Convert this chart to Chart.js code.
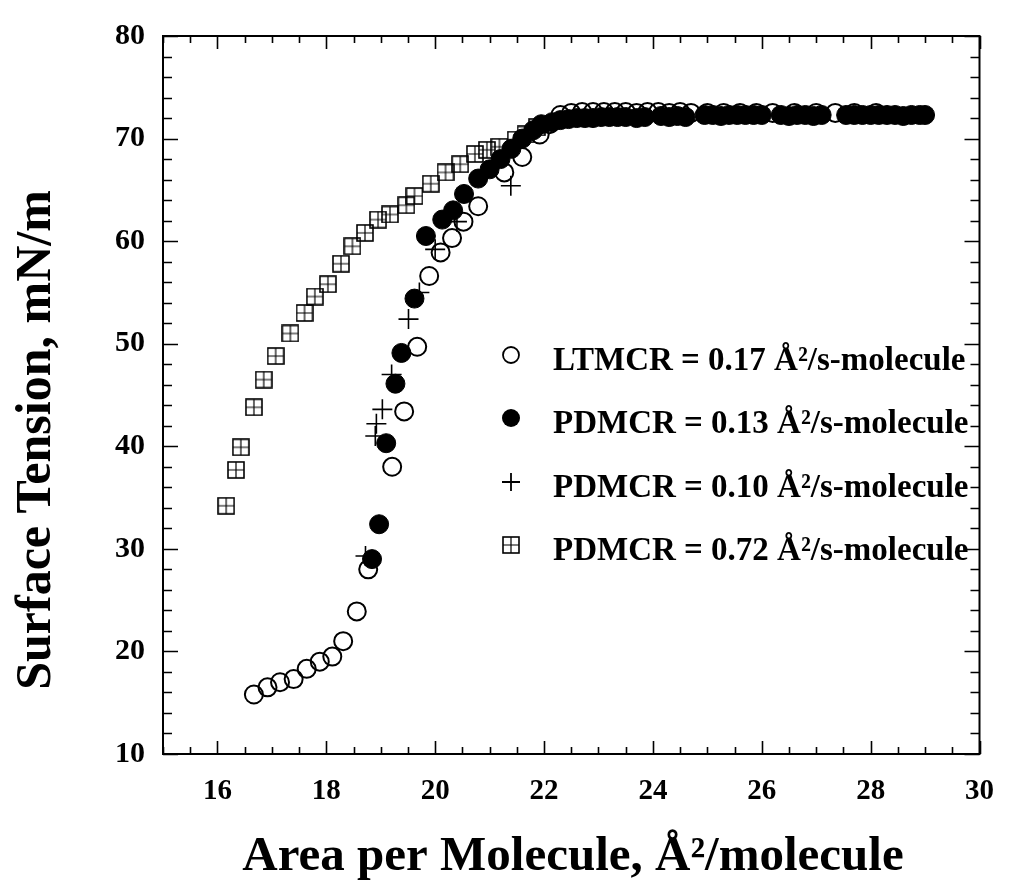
<!DOCTYPE html>
<html>
<head>
<meta charset="utf-8">
<script src="https://cdn.jsdelivr.net/npm/chart.js@4.4.1/dist/chart.umd.min.js"></script>
<style>
  html, body { margin: 0; padding: 0; background: #fff; }
  #wrap { width: 1014px; height: 890px; }
</style>
</head>
<body>
<div id="wrap"><canvas id="chart" width="1014" height="890"></canvas></div>
<script>
// Série LTMCR = 0.17 (círculos abertos)
const ltmcrX = [16.67, 16.92, 17.15, 17.40, 17.64, 17.88, 18.11, 18.31, 18.56, 18.77, 19.21, 19.43, 19.67, 19.89, 20.10, 20.31, 20.52, 20.79, 21.27, 21.60, 21.92, 22.10,
  22.30, 22.50, 22.70, 22.90, 23.10, 23.30, 23.50, 23.70, 23.90, 24.10, 24.30, 24.50, 24.70, 25.00, 25.30, 25.60, 25.90, 26.20, 26.60, 27.00, 27.35, 27.70, 28.10];
const ltmcrY = [15.8, 16.5, 17.0, 17.3, 18.3, 19.0, 19.5, 21.0, 23.9, 28.0, 38.0, 43.4, 49.7, 56.6, 58.9, 60.3, 61.9, 63.4, 66.7, 68.2, 70.4, 71.4,
  72.3, 72.5, 72.6, 72.6, 72.6, 72.6, 72.6, 72.5, 72.6, 72.6, 72.5, 72.6, 72.5, 72.5, 72.5, 72.5, 72.5, 72.5, 72.5, 72.5, 72.5, 72.5, 72.5];

// Série PDMCR = 0.13 (círculos cheios)
const pd013X = [18.84, 18.97, 19.10, 19.27, 19.38, 19.62, 19.83, 20.13, 20.33, 20.53, 20.79, 21.00, 21.20, 21.40, 21.60, 21.80, 21.95,
  22.15, 22.30, 22.45, 22.60, 22.75, 22.90, 23.05, 23.20, 23.35, 23.50, 23.70, 23.85, 24.15, 24.30, 24.45, 24.60, 24.95, 25.10, 25.25, 25.40,
  25.55, 25.70, 25.85, 26.00, 26.35, 26.50, 26.65, 26.80, 26.95, 27.10, 27.55, 27.70, 27.85, 28.00, 28.15, 28.30, 28.45, 28.60, 28.75, 28.90, 29.00];
const pd013Y = [29.0, 32.4, 40.3, 46.1, 49.1, 54.4, 60.5, 62.1, 63.0, 64.6, 66.1, 67.0, 68.0, 69.0, 70.0, 70.8, 71.4,
  71.6, 71.8, 71.9, 72.0, 72.0, 72.0, 72.1, 72.1, 72.1, 72.1, 72.0, 72.1, 72.2, 72.1, 72.2, 72.1, 72.3, 72.3, 72.2, 72.3,
  72.3, 72.3, 72.3, 72.3, 72.3, 72.2, 72.3, 72.3, 72.2, 72.3, 72.3, 72.3, 72.3, 72.3, 72.3, 72.3, 72.3, 72.2, 72.3, 72.3, 72.3];

// Série PDMCR = 0.10 (cruzes)
const pd010X = [18.72, 18.90, 18.92, 19.03, 19.20, 19.51, 19.71, 20.00, 20.40, 21.39];
const pd010Y = [29.3, 41.0, 42.2, 43.6, 47.0, 52.4, 55.0, 59.2, 61.9, 65.4];

// Série PDMCR = 0.72 (quadrados com cruz)
const pd072X = [16.16, 16.34, 16.43, 16.67, 16.85, 17.07, 17.34, 17.60, 17.79, 18.03, 18.27, 18.48, 18.71, 18.95, 19.17, 19.47, 19.62, 19.92,
  20.19, 20.46, 20.73, 20.95, 21.18, 21.48, 21.66, 21.87];
const pd072Y = [34.2, 37.7, 39.9, 43.8, 46.5, 48.8, 51.0, 53.0, 54.6, 55.8, 57.8, 59.5, 60.8, 62.1, 62.6, 63.5, 64.4, 65.6,
  66.7, 67.5, 68.5, 68.9, 69.2, 69.9, 70.4, 71.1];

const seriesLabels = [
  'LTMCR = 0.17 Å²/s-molecule',
  'PDMCR = 0.13 Å²/s-molecule',
  'PDMCR = 0.10 Å²/s-molecule',
  'PDMCR = 0.72 Å²/s-molecule'
];
const xTicks = [16, 18, 20, 22, 24, 26, 28, 30];
const yTicks = [10, 20, 30, 40, 50, 60, 70, 80];
const xTitle = 'Area per Molecule, Å²/molecule';
const yTitle = 'Surface Tension, mN/m';

const FONT = "'Liberation Serif', 'Times New Roman', serif";

// junta arrays x/y em pontos
function pts(xs, ys) {
  return xs.map((x, i) => ({ x: x, y: ys[i] }));
}

// quadrado com cruz interna (marcador da série 0.72)
function makeBoxCross(size) {
  const c = document.createElement('canvas');
  c.width = size; c.height = size;
  const g = c.getContext('2d');
  g.strokeStyle = '#000';
  g.lineWidth = 1.6;
  g.strokeRect(1, 1, size - 2, size - 2);
  g.lineWidth = 1.2;
  g.beginPath();
  g.moveTo(size / 2, 1); g.lineTo(size / 2, size - 1);
  g.moveTo(1, size / 2); g.lineTo(size - 1, size / 2);
  g.stroke();
  return c;
}
const boxCross = makeBoxCross(18);

// moldura + ticks para dentro + títulos + legenda
const framePlugin = {
  id: 'frame',
  afterDraw(chart) {
    const { ctx, chartArea: a, scales } = chart;
    const xs = scales.x, ys = scales.y;
    ctx.save();
    ctx.strokeStyle = '#000';
    ctx.lineWidth = 2;
    ctx.strokeRect(a.left, a.top, a.right - a.left, a.bottom - a.top);

    ctx.lineWidth = 1.6;
    ctx.beginPath();
    for (let v = 15; v <= 30.001; v += 0.5) {
      const px = Math.round(xs.getPixelForValue(v)) + 0.5;
      const len = (Math.abs(v % 2) < 0.01) ? 13 : 7;
      ctx.moveTo(px, a.bottom); ctx.lineTo(px, a.bottom - len);
      ctx.moveTo(px, a.top); ctx.lineTo(px, a.top + len);
    }
    for (let v = 10; v <= 80.001; v += 2) {
      const py = Math.round(ys.getPixelForValue(v)) + 0.5;
      const len = (Math.abs(v % 10) < 0.01) ? 15 : 9;
      ctx.moveTo(a.left, py); ctx.lineTo(a.left + len, py);
      ctx.moveTo(a.right, py); ctx.lineTo(a.right - len, py);
    }
    ctx.stroke();

    // títulos dos eixos
    ctx.fillStyle = '#000';
    ctx.textAlign = 'center';
    ctx.textBaseline = 'middle';
    ctx.font = 'bold 49px ' + FONT;
    ctx.fillText(xTitle, 573, 857);
    ctx.save();
    ctx.translate(37, 440);
    ctx.rotate(-Math.PI / 2);
    ctx.font = 'bold 50px ' + FONT;
    ctx.fillText(yTitle, 0, 0);
    ctx.restore();

    // legenda
    const rowsY = [361, 424, 488, 551];
    const mx = 511, tx = 553;
    ctx.font = 'bold 33px ' + FONT;
    ctx.textAlign = 'left';
    seriesLabels.forEach((lab, i) => {
      const y = rowsY[i];
      const my = y - 6;
      ctx.lineWidth = 1.8;
      if (i === 0) {
        ctx.beginPath(); ctx.arc(mx, my, 8, 0, Math.PI * 2); ctx.stroke();
      } else if (i === 1) {
        ctx.beginPath(); ctx.arc(mx, my, 9, 0, Math.PI * 2); ctx.fill();
      } else if (i === 2) {
        ctx.beginPath();
        ctx.moveTo(mx - 9, my); ctx.lineTo(mx + 9, my);
        ctx.moveTo(mx, my - 9); ctx.lineTo(mx, my + 9);
        ctx.stroke();
      } else {
        ctx.drawImage(boxCross, mx - 9, my - 9);
      }
      ctx.fillText(lab, tx, y);
    });
    ctx.restore();
  }
};

new Chart(document.getElementById('chart').getContext('2d'), {
  type: 'scatter',
  data: {
    datasets: [
      { label: seriesLabels[0], data: pts(ltmcrX, ltmcrY), pointStyle: 'circle', pointRadius: 9,
        backgroundColor: 'rgba(0,0,0,0)', borderColor: '#000', borderWidth: 2 },
      { label: seriesLabels[1], data: pts(pd013X, pd013Y), pointStyle: 'circle', pointRadius: 9.5,
        backgroundColor: '#000', borderColor: '#000', borderWidth: 1 },
      { label: seriesLabels[2], data: pts(pd010X, pd010Y), pointStyle: 'cross', pointRadius: 10,
        backgroundColor: '#000', borderColor: '#000', borderWidth: 1.6 },
      { label: seriesLabels[3], data: pts(pd072X, pd072Y), pointStyle: boxCross, pointRadius: 9,
        backgroundColor: '#000', borderColor: '#000' }
    ]
  },
  options: {
    responsive: false,
    animation: false,
    layout: { padding: { top: 25, right: 17, left: 0, bottom: 0 } },
    plugins: { legend: { display: false }, tooltip: { enabled: false } },
    scales: {
      x: {
        type: 'linear', min: 15, max: 30,
        afterBuildTicks: s => { s.ticks = xTicks.map(v => ({ value: v })); },
        afterFit: s => { s.height = 136; },
        grid: { display: false, drawTicks: false },
        border: { display: false },
        ticks: { color: '#000', padding: 20, maxRotation: 0, font: { family: FONT, size: 29, weight: 'bold' } }
      },
      y: {
        type: 'linear', min: 10, max: 80,
        afterBuildTicks: s => { s.ticks = yTicks.map(v => ({ value: v })); },
        afterFit: s => { s.width = 163; },
        grid: { display: false, drawTicks: false },
        border: { display: false },
        ticks: { color: '#000', padding: 18, font: { family: FONT, size: 30, weight: 'bold' } }
      }
    }
  },
  plugins: [framePlugin]
});
</script>
</body>
</html>
